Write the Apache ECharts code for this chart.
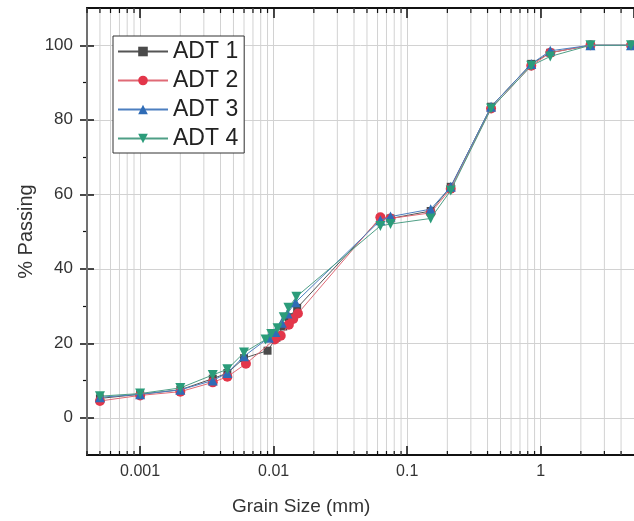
<!DOCTYPE html>
<html>
<head>
<meta charset="utf-8">
<script src="https://cdn.jsdelivr.net/npm/echarts@6/dist/echarts.min.js"></script>
<style>
html,body{margin:0;padding:0;background:#fff;}
#chart{width:634px;height:521px;}
</style>
</head>
<body>
<div id="chart"></div>
<script>
// ---- data (grain size in mm, % passing) ----
const seriesNames = ['ADT 1', 'ADT 2', 'ADT 3', 'ADT 4'];

const adt1Size = [4.75, 2.36, 1.18, 0.85, 0.425, 0.212, 0.15, 0.075, 0.063, 0.015, 0.013, 0.0118, 0.0105, 0.009, 0.006, 0.0045, 0.0035, 0.002, 0.001, 0.0005];
const adt1Pass = [100, 100, 98, 95, 83.5, 62, 55.5, 53.5, 53.5, 29.5, 27, 24.5, 21.5, 18, 16, 12, 10.5, 7.5, 6.3, 5.2];

const adt2Size = [4.75, 2.36, 1.18, 0.85, 0.425, 0.212, 0.15, 0.075, 0.063, 0.0152, 0.014, 0.013, 0.0113, 0.0102, 0.0062, 0.0045, 0.0035, 0.002, 0.001, 0.0005];
const adt2Pass = [100, 100, 98, 94.5, 83, 61.5, 55, 53.5, 53.8, 28, 26.5, 25, 22, 21, 14.5, 11, 9.5, 7, 6, 4.5];

const adt3Size = [4.75, 2.36, 1.18, 0.85, 0.425, 0.212, 0.15, 0.075, 0.063, 0.0146, 0.0127, 0.0115, 0.0103, 0.0092, 0.006, 0.0045, 0.0035, 0.002, 0.001, 0.0005];
const adt3Pass = [100, 100, 98.5, 95, 83.5, 62, 56, 54, 53, 31, 28, 25.5, 23, 21.5, 16.5, 12, 10, 7.5, 6.3, 5.5];

const adt4Size = [4.75, 2.36, 1.18, 0.85, 0.425, 0.212, 0.15, 0.075, 0.063, 0.0148, 0.0129, 0.0119, 0.0107, 0.0096, 0.0087, 0.006, 0.0045, 0.0035, 0.002, 0.001, 0.0005];
const adt4Pass = [100, 100, 97, 94.5, 83, 61, 53.5, 52, 51.5, 32.5, 29.5, 27, 24, 22.5, 21, 17.5, 13, 11.5, 8, 6.5, 5.8];

// ---- axis ticks ----
const xMajorLabels = [0.001, 0.01, 0.1, 1];
const xMinorTicks = [0.0004, 0.0005, 0.0006, 0.0007, 0.0008, 0.0009,
  0.002, 0.003, 0.004, 0.005, 0.006, 0.007, 0.008, 0.009,
  0.02, 0.03, 0.04, 0.05, 0.06, 0.07, 0.08, 0.09,
  0.2, 0.3, 0.4, 0.5, 0.6, 0.7, 0.8, 0.9,
  2, 3, 4];
const yMajorTicks = [0, 20, 40, 60, 80, 100];
const yMinorTicks = [10, 30, 50, 70, 90];

const sizes = [adt1Size, adt2Size, adt3Size, adt4Size];
const passes = [adt1Pass, adt2Pass, adt3Pass, adt4Pass];
const colors = ['#4a4a4a', '#e3364a', '#2f6cb6', '#2b9c7a'];
const lineColors = ['#555555', '#e06a76', '#4d7fc0', '#4f9f86'];
const symbols = ['rect', 'circle', 'triangle', 'path://M0,0 L10,0 L5,9 Z'];
const symSizes = [8, 10, 10, 10];

const X_MIN = 0.0004, X_MAX = 5, Y_MIN = -10, Y_MAX = 110;
const FONT = "'Liberation Sans', Arial, sans-serif";

const chart = echarts.init(document.getElementById('chart'), null, {renderer: 'canvas'});

const dataSeries = seriesNames.map((name, i) => ({
  name: name,
  type: 'line',
  data: sizes[i].map((s, k) => [s, passes[i][k]]),
  symbol: symbols[i],
  symbolSize: symSizes[i],
  itemStyle: {color: colors[i]},
  lineStyle: {color: lineColors[i], width: 1},
  z: 3 + i,
  xAxisIndex: 0,
  yAxisIndex: 0
}));

const minorSeries = {
  type: 'custom',
  silent: true,
  xAxisIndex: 0,
  yAxisIndex: 0,
  z: 1,
  data: xMinorTicks.map(v => [v, 0]),
  renderItem: function (params, api) {
    const x = api.value(0);
    const top = api.coord([x, Y_MAX]);
    const bot = api.coord([x, Y_MIN]);
    return {
      type: 'group',
      children: [
        {type: 'line', shape: {x1: top[0], y1: top[1], x2: bot[0], y2: bot[1]},
          style: {stroke: '#d2d2d2', lineWidth: 1}},
        {type: 'line', shape: {x1: bot[0], y1: bot[1], x2: bot[0], y2: bot[1] - 4},
          style: {stroke: '#111', lineWidth: 1.2}},
        {type: 'line', shape: {x1: top[0], y1: top[1], x2: top[0], y2: top[1] + 5},
          style: {stroke: '#111', lineWidth: 1.2}}
      ]
    };
  }
};

const logFmt = function (v) {
  if (xMajorLabels.some(m => Math.abs(m - v) / m < 1e-6)) {
    return String(+v.toPrecision(6));
  }
  return '';
};

chart.setOption({
  animation: false,
  backgroundColor: '#ffffff',
  grid: {left: 87, right: 0, top: 8, bottom: 66, containLabel: false},
  legend: {
    data: seriesNames,
    orient: 'vertical',
    left: 113,
    top: 36,
    itemWidth: 50,
    itemHeight: 12,
    itemGap: 6,
    padding: [4, 6, 3, 4],
    backgroundColor: '#ffffff',
    borderColor: '#333333',
    borderWidth: 1,
    borderRadius: 0,
    textStyle: {fontFamily: FONT, fontSize: 23, color: '#222'}
  },
  xAxis: [
    {
      type: 'log', logBase: 10, min: X_MIN, max: X_MAX, position: 'bottom',
      axisLine: {show: true, onZero: false, lineStyle: {color: '#111', width: 2}},
      axisTick: {show: true, inside: true, length: 9, lineStyle: {color: '#111', width: 1.5}},
      axisLabel: {show: true, formatter: logFmt, fontFamily: FONT, fontSize: 16, color: '#333', margin: 9,
        showMinLabel: false, showMaxLabel: false},
      splitLine: {show: true, lineStyle: {color: '#d2d2d2', width: 1}},
      minorTick: {show: false}
    },
    {
      type: 'log', logBase: 10, min: X_MIN, max: X_MAX, position: 'top',
      axisLine: {show: true, onZero: false, lineStyle: {color: '#111', width: 2}},
      axisTick: {show: true, inside: true, length: 10, lineStyle: {color: '#111', width: 1.5}},
      axisLabel: {show: false},
      splitLine: {show: false}
    }
  ],
  yAxis: [
    {
      type: 'value', min: Y_MIN, max: Y_MAX, interval: 10, position: 'left', offset: 0,
      name: '% Passing', nameLocation: 'middle', nameGap: 51, nameRotate: 90, nameMoveOverlap: false,
      nameTextStyle: {fontFamily: FONT, fontSize: 20, color: '#333'},
      axisLine: {show: true, onZero: false, lineStyle: {color: '#111', width: 2}},
      axisTick: {show: true, inside: false, length: 7, customValues: yMajorTicks, lineStyle: {color: '#111', width: 1.5}},
      axisLabel: {show: true, customValues: yMajorTicks, fontFamily: FONT, fontSize: 17, color: '#333', margin: 14,
        formatter: v => (yMajorTicks.indexOf(v) >= 0 ? String(v) : '')},
      splitLine: {show: true, lineStyle: {color: '#d2d2d2', width: 1}}
    },
    {
      type: 'value', min: Y_MIN, max: Y_MAX, interval: 10, position: 'left', offset: 0,
      axisLine: {show: false, onZero: false},
      axisTick: {show: true, inside: true, length: 7, customValues: yMajorTicks, lineStyle: {color: '#111', width: 1.5}},
      axisLabel: {show: false},
      splitLine: {show: false}
    },
    {
      type: 'value', min: Y_MIN, max: Y_MAX, interval: 10, position: 'left', offset: 0,
      axisLine: {show: false, onZero: false},
      axisTick: {show: true, inside: false, length: 4, customValues: yMinorTicks, lineStyle: {color: '#111', width: 1.2}},
      axisLabel: {show: false},
      splitLine: {show: false}
    }
  ],
  graphic: [
    {type: 'text', left: 232, top: 497, silent: true,
      style: {text: 'Grain Size (mm)', fontFamily: FONT, fontSize: 19, fill: '#333'}}
  ],
  series: [minorSeries].concat(dataSeries)
});
</script>
</body>
</html>
